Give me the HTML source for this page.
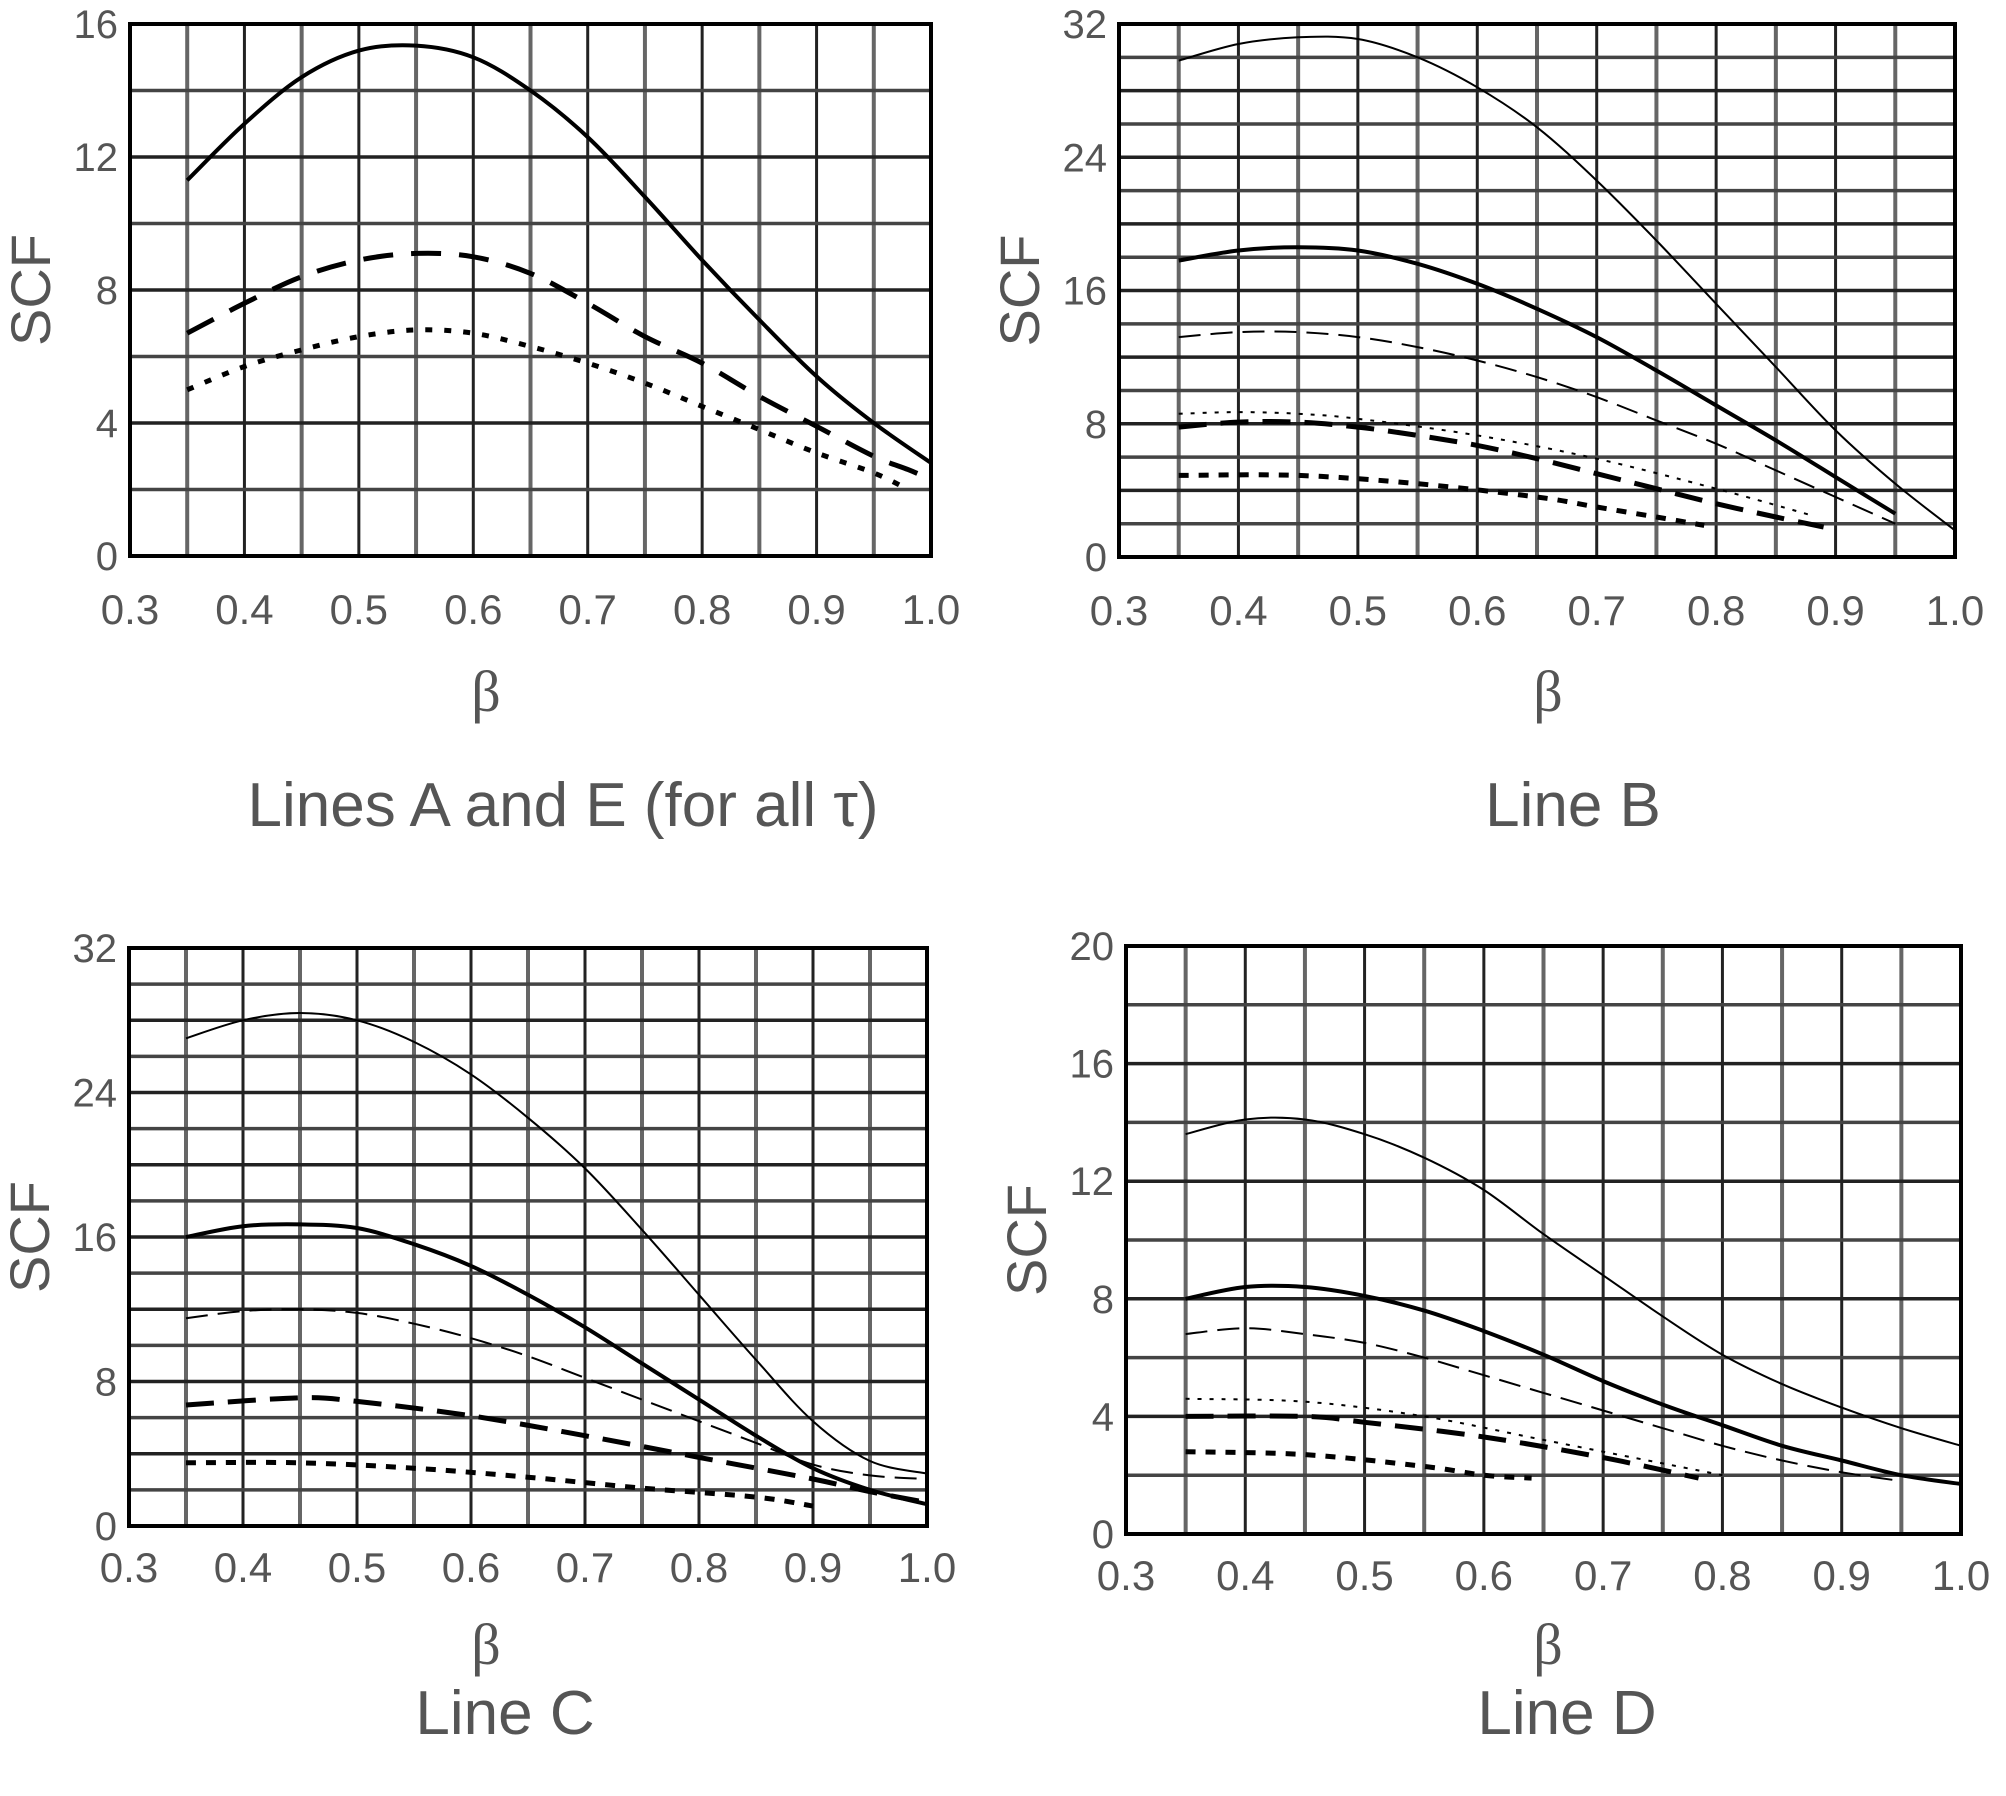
<!DOCTYPE html>
<html><head><meta charset="utf-8"><style>
html,body{margin:0;padding:0;background:#fff;}
svg{display:block;}
</style></head><body>
<svg id="s" width="2006" height="1796" xmlns="http://www.w3.org/2000/svg"></svg>
<script>
const svg=document.getElementById('s');
let out='';
const panels=[
 {l:130,r:931,t:24,b:556,ymax:16,ylab:[0,4,8,12,16],xo:68,title:'Lines A and E (for all \u03c4)',tx:563,ty:806,bx:486,by:691,
  series:[
   {w:4,d:'',p:[[0.35,11.3],[0.4,13],[0.45,14.4],[0.5,15.2],[0.55,15.35],[0.6,15],[0.65,14],[0.7,12.6],[0.75,10.8],[0.8,8.9],[0.85,7.1],[0.9,5.4],[0.95,4],[1.0,2.8]]},
   {w:5,d:'30 18',p:[[0.35,6.7],[0.4,7.6],[0.45,8.4],[0.5,8.9],[0.55,9.1],[0.6,9.0],[0.65,8.5],[0.7,7.6],[0.75,6.6],[0.8,5.8],[0.85,4.8],[0.9,3.9],[0.95,3.0],[0.98,2.6],[1.0,2.3]]},
   {w:5,d:'7 12',p:[[0.35,5],[0.4,5.7],[0.45,6.2],[0.5,6.6],[0.55,6.8],[0.6,6.7],[0.65,6.3],[0.7,5.8],[0.75,5.2],[0.8,4.5],[0.85,3.8],[0.9,3.1],[0.95,2.5],[0.98,2.0]]}
  ]},
 {l:1119,r:1955,t:24,b:557,ymax:32,ylab:[0,8,16,24,32],xo:68,title:'Line B',tx:1573,ty:806,bx:1548,by:691,
  series:[
   {w:2,d:'',p:[[0.35,29.8],[0.4,30.8],[0.45,31.2],[0.5,31.1],[0.55,30],[0.6,28.2],[0.65,25.8],[0.7,22.6],[0.75,19],[0.8,15.2],[0.85,11.4],[0.9,7.6],[0.95,4.4],[1.0,1.6]]},
   {w:4,d:'',p:[[0.35,17.8],[0.4,18.4],[0.45,18.6],[0.5,18.4],[0.55,17.6],[0.6,16.4],[0.65,14.9],[0.7,13.2],[0.75,11.2],[0.8,9.1],[0.85,7],[0.9,4.8],[0.95,2.6]]},
   {w:2,d:'22 10',p:[[0.35,13.2],[0.4,13.5],[0.45,13.5],[0.5,13.2],[0.55,12.6],[0.6,11.8],[0.65,10.8],[0.7,9.6],[0.75,8.2],[0.8,6.8],[0.85,5.2],[0.9,3.6],[0.95,2.0]]},
   {w:2,d:'4 8',p:[[0.35,8.6],[0.4,8.7],[0.45,8.6],[0.5,8.3],[0.6,7.3],[0.7,5.9],[0.8,4.1],[0.88,2.5]]},
   {w:5,d:'28 14',p:[[0.35,7.8],[0.4,8.1],[0.45,8.1],[0.5,7.8],[0.55,7.3],[0.6,6.7],[0.65,5.9],[0.7,5.0],[0.75,4.1],[0.8,3.2],[0.85,2.4],[0.89,1.8]]},
   {w:5,d:'10 10',p:[[0.35,4.9],[0.45,4.9],[0.55,4.4],[0.65,3.6],[0.7,3.0],[0.75,2.4],[0.79,1.9]]}
  ]},
 {l:129,r:927,t:948,b:1526,ymax:32,ylab:[0,8,16,24,32],xo:56,title:'Line C',tx:505,ty:1714,bx:486,by:1644,
  series:[
   {w:2,d:'',p:[[0.35,27],[0.4,28],[0.45,28.4],[0.5,28],[0.55,26.8],[0.6,25],[0.65,22.6],[0.7,19.8],[0.75,16.4],[0.8,12.8],[0.85,9.2],[0.9,5.8],[0.95,3.6],[1.0,2.9]]},
   {w:4,d:'',p:[[0.35,16],[0.4,16.6],[0.45,16.7],[0.5,16.5],[0.55,15.6],[0.6,14.4],[0.65,12.8],[0.7,11],[0.75,9],[0.8,7],[0.85,5],[0.9,3.2],[0.95,2],[1.0,1.2]]},
   {w:2,d:'22 10',p:[[0.35,11.5],[0.4,11.9],[0.45,12],[0.5,11.8],[0.55,11.2],[0.6,10.4],[0.65,9.4],[0.7,8.2],[0.75,7],[0.8,5.8],[0.85,4.6],[0.9,3.4],[0.95,2.8],[1.0,2.6]]},
   {w:5,d:'28 14',p:[[0.35,6.7],[0.45,7.1],[0.5,6.9],[0.6,6.1],[0.7,5.0],[0.8,3.8],[0.9,2.6],[0.95,1.9],[1.0,1.3]]},
   {w:5,d:'10 10',p:[[0.35,3.5],[0.45,3.5],[0.55,3.2],[0.65,2.7],[0.75,2.1],[0.85,1.6],[0.9,1.1]]}
  ]},
 {l:1126,r:1961,t:946,b:1534,ymax:20,ylab:[0,4,8,12,16,20],xo:56,title:'Line D',tx:1567,ty:1714,bx:1548,by:1644,
  series:[
   {w:2,d:'',p:[[0.35,13.6],[0.4,14.1],[0.45,14.1],[0.5,13.6],[0.55,12.8],[0.6,11.7],[0.65,10.2],[0.7,8.8],[0.75,7.4],[0.8,6.1],[0.85,5.1],[0.9,4.3],[0.95,3.6],[1.0,3.0]]},
   {w:4,d:'',p:[[0.35,8.0],[0.4,8.4],[0.45,8.4],[0.5,8.1],[0.55,7.6],[0.6,6.9],[0.65,6.1],[0.7,5.2],[0.75,4.4],[0.8,3.7],[0.85,3.0],[0.9,2.5],[0.95,2.0],[1.0,1.7]]},
   {w:2,d:'22 10',p:[[0.35,6.8],[0.4,7.0],[0.45,6.8],[0.5,6.5],[0.55,6.0],[0.6,5.4],[0.65,4.8],[0.7,4.2],[0.75,3.6],[0.8,3.0],[0.85,2.5],[0.9,2.1],[0.95,1.8]]},
   {w:2,d:'4 8',p:[[0.35,4.6],[0.45,4.5],[0.55,4.0],[0.65,3.2],[0.75,2.4],[0.8,2.0]]},
   {w:5,d:'28 14',p:[[0.35,4.0],[0.45,4.0],[0.5,3.8],[0.6,3.3],[0.7,2.6],[0.78,1.9]]},
   {w:5,d:'10 10',p:[[0.35,2.8],[0.45,2.7],[0.55,2.3],[0.6,2.0],[0.64,1.9]]}
  ]}
];
function smooth(pts){
  let d=`M${pts[0][0].toFixed(1)},${pts[0][1].toFixed(1)}`;
  for(let i=0;i<pts.length-1;i++){
    const p0=pts[i-1]||pts[i],p1=pts[i],p2=pts[i+1],p3=pts[i+2]||p2;
    const c1=[p1[0]+(p2[0]-p0[0])/6,p1[1]+(p2[1]-p0[1])/6];
    const c2=[p2[0]-(p3[0]-p1[0])/6,p2[1]-(p3[1]-p1[1])/6];
    d+=` C${c1[0].toFixed(1)},${c1[1].toFixed(1)} ${c2[0].toFixed(1)},${c2[1].toFixed(1)} ${p2[0].toFixed(1)},${p2[1].toFixed(1)}`;
  }
  return d;
}
for(const P of panels){
  const X=v=>P.l+(v-0.3)/0.7*(P.r-P.l);
  const Y=v=>P.b-v/P.ymax*(P.b-P.t);
  for(let i=1;i<14;i++){const x=X(0.3+i*0.05);
    out+=`<line x1="${x}" y1="${P.t}" x2="${x}" y2="${P.b}" stroke="${i%2?'#666':'#222'}" stroke-width="${i%2?4:3}"/>`;}
  for(let v=2;v<P.ymax;v+=2){const y=Y(v);
    out+=`<line x1="${P.l}" y1="${y}" x2="${P.r}" y2="${y}" stroke="${(v/2)%2?'#444':'#222'}" stroke-width="3.5"/>`;}
  out+=`<rect x="${P.l}" y="${P.t}" width="${P.r-P.l}" height="${P.b-P.t}" fill="none" stroke="#000" stroke-width="4"/>`;
  for(const S of P.series){
    const pts=S.p.map(q=>[X(q[0]),Y(q[1])]);
    out+=`<path d="${smooth(pts)}" fill="none" stroke="#000" stroke-width="${S.w}" ${S.d?`stroke-dasharray="${S.d}"`:''} stroke-linejoin="round"/>`;
  }
  for(const v of P.ylab){
    out+=`<text x="${P.l-12}" y="${Y(v)+14}" text-anchor="end" font-family="Liberation Sans, sans-serif" font-size="40" fill="#555">${v}</text>`;}
  for(let i=0;i<=7;i++){const v=0.3+i*0.1;
    out+=`<text x="${X(v)}" y="${P.b+P.xo}" text-anchor="middle" font-family="Liberation Sans, sans-serif" font-size="42" fill="#555">${v.toFixed(1)}</text>`;}
  const cy=(P.t+P.b)/2;
  out+=`<text x="0" y="0" transform="translate(${P.l-80},${cy}) rotate(-90)" text-anchor="middle" font-family="Liberation Sans, sans-serif" font-size="56" fill="#555">SCF</text>`;
  out+=`<text x="${P.bx}" y="${P.by+20}" text-anchor="middle" font-family="Liberation Serif, serif" font-size="58" fill="#555">\u03b2</text>`;
  out+=`<text x="${P.tx}" y="${P.ty+20}" text-anchor="middle" font-family="Liberation Sans, sans-serif" font-size="62" fill="#555">${P.title}</text>`;
}
svg.innerHTML=out;
</script>
</body></html>
